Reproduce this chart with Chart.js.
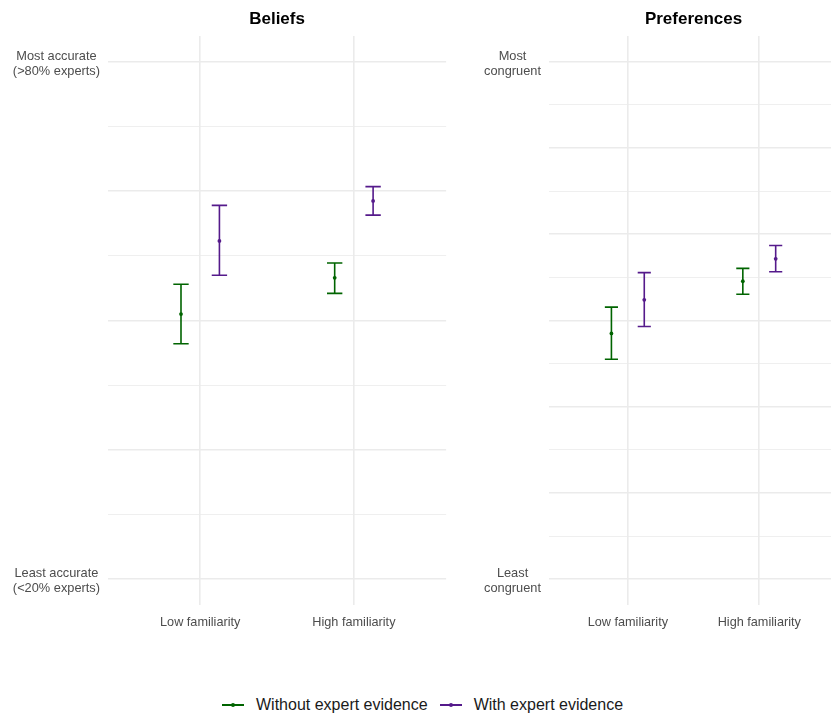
<!DOCTYPE html>
<html>
<head>
<meta charset="utf-8">
<script src="https://cdn.jsdelivr.net/npm/chart.js@4.4.1/dist/chart.umd.min.js"></script>
<style>
  html, body { margin: 0; padding: 0; background: #fff; overflow: hidden; width: 831px; height: 719px; }
  #wrap { position: relative; width: 831px; height: 719px; overflow: hidden; }
  #beliefs { position: absolute; left: 0; top: 0; }
  #prefs { position: absolute; left: 448px; top: 0; }
  #legend { position: absolute; left: 222px; top: 694px; display: flex; align-items: center;
            font: 16px "Liberation Sans", Arial, sans-serif; color: #1a1a1a; white-space: nowrap; }
  .item { display: flex; align-items: center; margin-right: 12px; height: 22px; }
  .key { position: relative; width: 22px; height: 22px; margin-right: 12px; }
  .key .ln { position: absolute; left: 0; top: 10px; width: 22px; height: 1.6px; }
  .key .pt { position: absolute; left: 9px; top: 9px; width: 4px; height: 4px; border-radius: 50%; }
</style>
</head>
<body>
<div id="wrap">
  <canvas id="beliefs" width="448" height="640"></canvas>
  <canvas id="prefs" width="392" height="640"></canvas>
  <div id="legend"></div>
</div>
<script>
// Categories and series
const categories = ['Low familiarity', 'High familiarity'];
const seriesNames = ['Without expert evidence', 'With expert evidence'];
const seriesColors = ['#006400', '#551A8B'];

// Beliefs panel (1 = least accurate, 5 = most accurate): mean and interval bounds
const beliefsWithoutMean = [3.05, 3.33];
const beliefsWithoutLow  = [2.82, 3.21];
const beliefsWithoutHigh = [3.28, 3.445];
const beliefsWithMean    = [3.615, 3.925];
const beliefsWithLow     = [3.35, 3.815];
const beliefsWithHigh    = [3.89, 4.035];

// Preferences panel (1 = least congruent, 7 = most congruent)
const prefsWithoutMean = [3.85, 4.455];
const prefsWithoutLow  = [3.55, 4.305];
const prefsWithoutHigh = [4.155, 4.605];
const prefsWithMean    = [4.24, 4.715];
const prefsWithLow     = [3.93, 4.565];
const prefsWithHigh    = [4.555, 4.87];

// Axis ticks and their end labels
const beliefsTicks = [1, 1.5, 2, 2.5, 3, 3.5, 4, 4.5, 5];
const prefsTicks = [1, 1.5, 2, 2.5, 3, 3.5, 4, 4.5, 5, 5.5, 6, 6.5, 7];
const beliefsTopLabel = ['Most accurate', '(>80% experts)'];
const beliefsBottomLabel = ['Least accurate', '(<20% experts)'];
const prefsTopLabel = ['Most', 'congruent'];
const prefsBottomLabel = ['Least', 'congruent'];

const FONT = '"Liberation Sans", Arial, sans-serif';
const DODGE = 0.125;     // horizontal offset of each series from its category
const CAP_HALF = 0.05;   // half-width of the error bar caps, in category units

// Draws the interval for every point beneath the point markers
const errorBars = {
  id: 'errorBars',
  beforeDatasetsDraw(chart) {
    const { ctx } = chart;
    const x = chart.scales.x, y = chart.scales.y;
    chart.data.datasets.forEach(ds => {
      ctx.save();
      ctx.strokeStyle = ds.borderColor;
      ctx.lineWidth = 1.6;
      ds.data.forEach((p, i) => {
        const px = x.getPixelForValue(p.x);
        const lo = y.getPixelForValue(ds.errLow[i]);
        const hi = y.getPixelForValue(ds.errHigh[i]);
        const l = x.getPixelForValue(p.x - CAP_HALF);
        const r = x.getPixelForValue(p.x + CAP_HALF);
        ctx.beginPath();
        ctx.moveTo(px, lo); ctx.lineTo(px, hi);
        ctx.moveTo(l, lo); ctx.lineTo(r, lo);
        ctx.moveTo(l, hi); ctx.lineTo(r, hi);
        ctx.stroke();
      });
      ctx.restore();
    });
  }
};

// Panel heading centred over the plotting area
const panelTitle = {
  id: 'panelTitle',
  afterDraw(chart, args, opts) {
    const { ctx, chartArea } = chart;
    ctx.save();
    ctx.font = 'bold 17px ' + FONT;
    ctx.fillStyle = '#000';
    ctx.textAlign = 'center';
    ctx.textBaseline = 'middle';
    ctx.fillText(opts.text, (chartArea.left + chartArea.right) / 2, 19);
    ctx.restore();
  }
};

function makePanel(canvas, title, ticks, yMin, yMax, topLabel, bottomLabel, axisWidth, series) {
  return new Chart(canvas, {
    type: 'scatter',
    data: {
      datasets: series.map((s, k) => ({
        label: seriesNames[k],
        data: s.mean.map((m, i) => ({ x: i + 1 + (k === 0 ? -DODGE : DODGE), y: m })),
        errLow: s.low,
        errHigh: s.high,
        backgroundColor: seriesColors[k],
        borderColor: seriesColors[k],
        pointRadius: 1.9,
        pointBorderWidth: 0,
        pointHoverRadius: 1.9
      }))
    },
    options: {
      responsive: false,
      animation: false,
      events: [],
      layout: { padding: { top: 36, left: 0, right: 0, bottom: 0 } },
      plugins: { legend: { display: false }, tooltip: { enabled: false }, panelTitle: { text: title } },
      scales: {
        x: {
          type: 'linear',
          min: 0.4,
          max: 2.6,
          afterBuildTicks: sc => { sc.ticks = categories.map((c, i) => ({ value: i + 1 })); },
          afterFit: sc => { sc.height = 35; },
          ticks: {
            callback: v => categories[Math.round(v) - 1] || '',
            color: '#4d4d4d',
            font: { family: FONT, size: 12.7 },
            padding: 10,
            maxRotation: 0,
            autoSkip: false
          },
          grid: { color: '#ebebeb', lineWidth: 1.6, drawTicks: false },
          border: { display: false }
        },
        y: {
          type: 'linear',
          min: yMin,
          max: yMax,
          afterBuildTicks: sc => { sc.ticks = ticks.map(v => ({ value: v })); },
          afterFit: sc => { sc.width = axisWidth; },
          ticks: {
            callback: v => v === ticks[0] ? bottomLabel : (v === ticks[ticks.length - 1] ? topLabel : ''),
            color: '#4d4d4d',
            font: { family: FONT, size: 12.8, lineHeight: 1.12 },
            crossAlign: 'center',
            padding: 8,
            labelOffset: 2,
            autoSkip: false
          },
          grid: {
            color: '#ebebeb',
            lineWidth: ctx => Number.isInteger(ctx.tick.value) ? 1.6 : 0.8,
            drawTicks: false
          },
          border: { display: false }
        }
      }
    },
    plugins: [errorBars, panelTitle]
  });
}

makePanel(document.getElementById('beliefs'), 'Beliefs', beliefsTicks, 0.8, 5.2,
  beliefsTopLabel, beliefsBottomLabel, 108, [
    { mean: beliefsWithoutMean, low: beliefsWithoutLow, high: beliefsWithoutHigh },
    { mean: beliefsWithMean, low: beliefsWithLow, high: beliefsWithHigh }
  ]);

makePanel(document.getElementById('prefs'), 'Preferences', prefsTicks, 0.7, 7.3,
  prefsTopLabel, prefsBottomLabel, 101, [
    { mean: prefsWithoutMean, low: prefsWithoutLow, high: prefsWithoutHigh },
    { mean: prefsWithMean, low: prefsWithLow, high: prefsWithHigh }
  ]);

// Shared legend below both panels
const legend = document.getElementById('legend');
seriesNames.forEach((name, k) => {
  const item = document.createElement('div');
  item.className = 'item';
  const key = document.createElement('div');
  key.className = 'key';
  const ln = document.createElement('div');
  ln.className = 'ln';
  ln.style.background = seriesColors[k];
  const pt = document.createElement('div');
  pt.className = 'pt';
  pt.style.background = seriesColors[k];
  key.appendChild(ln);
  key.appendChild(pt);
  const label = document.createElement('span');
  label.textContent = name;
  item.appendChild(key);
  item.appendChild(label);
  legend.appendChild(item);
});
</script>
</body>
</html>
